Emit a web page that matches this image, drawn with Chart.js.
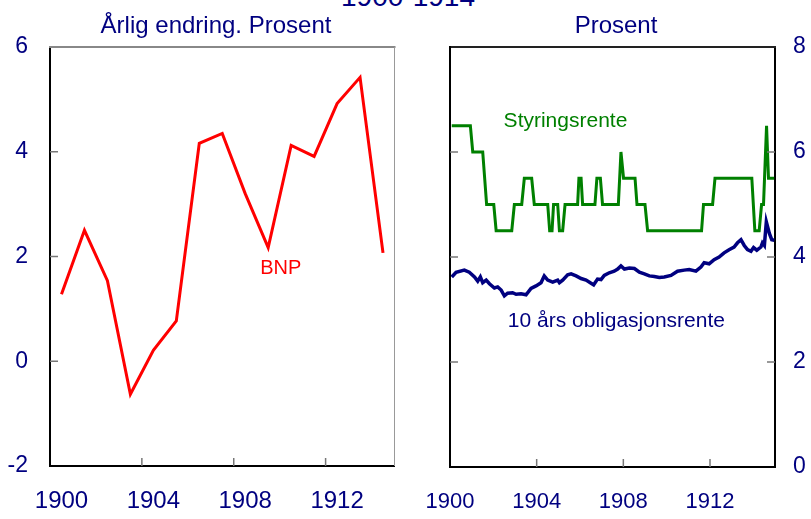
<!DOCTYPE html>
<html>
<head>
<meta charset="utf-8">
<script src="https://cdn.jsdelivr.net/npm/chart.js@4/dist/chart.umd.min.js"></script>
<style>
  html, body { margin:0; padding:0; background:#fff; }
  body { width:811px; height:519px; overflow:hidden; position:relative; font-family:"Liberation Sans", Arial, sans-serif; }
  #c1 { position:absolute; left:0; top:0; }
  #c2 { position:absolute; left:420px; top:0; }
  #mainTitle { position:absolute; left:0; width:816px; top:-17px; text-align:center; font-size:28px; line-height:28px; color:#000080; white-space:nowrap; }
</style>
</head>
<body>
<div id="mainTitle">1900-1914</div>
<canvas id="c1" width="420" height="519"></canvas>
<canvas id="c2" width="391" height="519"></canvas>
<script>
// ---------- Data ----------
const bnpYears  = [1900,1901,1902,1903,1904,1905,1906,1907,1908,1909,1910,1911,1912,1913,1914];
const bnpValues = [1.28,2.50,1.54,-0.63,0.21,0.77,4.16,4.35,3.20,2.17,4.12,3.91,4.92,5.42,2.07];

const rateTimes  = [1900.08,1900.94,1901.05,1901.51,1901.69,1902.02,1902.13,1902.85,1902.97,1903.31,1903.43,1903.77,
                    1903.89,1904.51,1904.60,1904.71,1904.78,1904.97,1905.05,1905.20,1905.31,1905.89,1905.95,1906.05,
                    1906.12,1906.69,1906.78,1906.94,1907.04,1907.77,1907.89,1908.01,1908.54,1908.63,1909.00,1909.12,
                    1911.61,1911.70,1912.12,1912.23,1913.93,1914.07,1914.27,1914.38,1914.47,1914.61,1914.70,1914.96];
const rateValues = [6.5,6.5,6.0,6.0,5.0,5.0,4.5,4.5,5.0,5.0,5.5,5.5,
                    5.0,5.0,4.5,4.5,5.0,5.0,4.5,4.5,5.0,5.0,5.5,5.5,
                    5.0,5.0,5.5,5.5,5.0,5.0,6.0,5.5,5.5,5.0,5.0,4.5,
                    4.5,5.0,5.0,5.5,5.5,4.5,4.5,5.0,5.0,6.5,5.5,5.5];

const bondTimes  = [1900.08,1900.28,1900.66,1900.89,1901.13,1901.28,1901.40,1901.51,1901.67,1901.82,1902.05,1902.20,
                    1902.36,1902.51,1902.66,1902.89,1903.05,1903.28,1903.51,1903.74,1903.97,1904.20,1904.35,1904.51,
                    1904.74,1904.97,1905.05,1905.20,1905.43,1905.59,1905.82,1906.05,1906.28,1906.51,1906.63,1906.81,
                    1906.97,1907.12,1907.35,1907.58,1907.74,1907.89,1908.05,1908.28,1908.51,1908.74,1908.97,1909.20,
                    1909.43,1909.66,1909.89,1910.20,1910.50,1910.81,1911.04,1911.35,1911.58,1911.73,1911.96,1912.19,
                    1912.42,1912.65,1912.88,1913.11,1913.27,1913.43,1913.58,1913.73,1913.89,1914.01,1914.16,1914.35,
                    1914.42,1914.51,1914.60,1914.74,1914.85,1914.97];
const bondValues = [3.62,3.71,3.75,3.71,3.62,3.54,3.62,3.51,3.56,3.49,3.41,3.43,
                    3.37,3.26,3.31,3.32,3.29,3.30,3.28,3.40,3.45,3.51,3.64,3.56,
                    3.52,3.56,3.51,3.56,3.66,3.68,3.64,3.59,3.56,3.50,3.47,3.58,
                    3.57,3.65,3.70,3.73,3.77,3.83,3.77,3.79,3.78,3.71,3.68,3.64,
                    3.63,3.61,3.62,3.65,3.73,3.75,3.76,3.73,3.81,3.89,3.87,3.95,
                    4.00,4.08,4.14,4.19,4.27,4.33,4.22,4.14,4.11,4.18,4.13,4.19,
                    4.27,4.22,4.67,4.45,4.33,4.32];

const leftXLabels  = [1900,1904,1908,1912];
const rightXLabels = [1900,1904,1908,1912];
const leftYTicks   = [-2,0,2,4,6];
const rightYTicks  = [0,2,4,6,8];

// ---------- Styles ----------
const NAVY = '#000080';
const FONT = '"Liberation Sans", Arial, sans-serif';
Chart.defaults.font.family = FONT;

function framePlugin(opts) {
  return {
    id: 'frame' + opts.name,
    afterDraw(chart) {
      const ctx = chart.ctx, a = chart.chartArea;
      const xs = chart.scales.x, ys = chart.scales.y;
      ctx.save();
      // subtitle
      ctx.fillStyle = NAVY;
      ctx.font = '24px ' + FONT;
      ctx.textAlign = 'center';
      ctx.textBaseline = 'alphabetic';
      ctx.fillText(opts.subtitle, opts.subX, 33);
      // top and extra borders
      ctx.strokeStyle = opts.topColor; ctx.lineWidth = 2;
      ctx.beginPath(); ctx.moveTo(a.left - 1, a.top); ctx.lineTo(a.right + 1, a.top); ctx.stroke();
      if (opts.rightBorder) {
        ctx.strokeStyle = opts.rightBorder.color; ctx.lineWidth = opts.rightBorder.width;
        ctx.beginPath(); ctx.moveTo(a.right, a.top); ctx.lineTo(a.right, a.bottom); ctx.stroke();
      }
      if (opts.leftBorder) {
        ctx.strokeStyle = '#000'; ctx.lineWidth = 2;
        ctx.beginPath(); ctx.moveTo(a.left, a.top - 1); ctx.lineTo(a.left, a.bottom + 1); ctx.stroke();
      }
      // inward tick marks
      ctx.strokeStyle = '#777'; ctx.lineWidth = 1.5;
      opts.yTicks.forEach(v => {
        const py = ys.getPixelForValue(v);
        if (py <= a.top + 2 || py >= a.bottom - 2) return;
        ctx.beginPath(); ctx.moveTo(a.left, py); ctx.lineTo(a.left + 8, py); ctx.stroke();
        if (opts.rightTicks) { ctx.beginPath(); ctx.moveTo(a.right, py); ctx.lineTo(a.right - 8, py); ctx.stroke(); }
      });
      opts.xTicks.forEach(v => {
        const px = xs.getPixelForValue(v);
        if (px <= a.left + 2 || px >= a.right - 2) return;
        ctx.beginPath(); ctx.moveTo(px, a.bottom); ctx.lineTo(px, a.bottom - 8); ctx.stroke();
      });
      // annotations
      opts.notes.forEach(n => {
        ctx.fillStyle = n.color;
        ctx.font = n.size + 'px ' + FONT;
        ctx.textAlign = 'center';
        ctx.textBaseline = 'middle';
        ctx.fillText(n.text, xs.getPixelForValue(n.x), ys.getPixelForValue(n.y));
      });
      ctx.restore();
    }
  };
}

function fitX(h) {
  return s => { s.height = h; s.paddingLeft = 0; s.paddingRight = 0; };
}

// ---------- Left chart: BNP ----------
new Chart(document.getElementById('c1'), {
  type: 'line',
  data: {
    datasets: [{
      data: bnpYears.map((yr, i) => ({ x: yr + 0.5, y: bnpValues[i] })),
      borderColor: '#ff0000', borderWidth: 3, pointRadius: 0, tension: 0, fill: false
    }]
  },
  options: {
    responsive: false, animation: false,
    layout: { padding: { left: 0, right: 25.5, top: 47, bottom: 0 } },
    plugins: { legend: { display: false }, tooltip: { enabled: false } },
    scales: {
      x: {
        type: 'linear', min: 1900, max: 1915,
        afterBuildTicks: s => { s.ticks = leftXLabels.map(v => ({ value: v + 0.5 })); },
        afterFit: fitX(53),
        ticks: { callback: v => String(Math.floor(v)), color: NAVY, font: { size: 24 }, padding: 21, maxRotation: 0, autoSkip: false },
        grid: { display: false, drawTicks: false },
        border: { display: true, color: '#000', width: 2 }
      },
      y: {
        min: -2, max: 6,
        afterBuildTicks: s => { s.ticks = leftYTicks.map(v => ({ value: v })); },
        afterFit: s => { s.width = 50; },
        ticks: { color: NAVY, font: { size: 23 }, padding: 22 },
        grid: { display: false, drawTicks: false },
        border: { display: true, color: '#000', width: 2 }
      }
    }
  },
  plugins: [framePlugin({
    name: 'L', subtitle: 'Årlig endring. Prosent', subX: 216,
    topColor: '#888', rightBorder: { color: '#999', width: 1 }, leftBorder: false, rightTicks: false,
    yTicks: leftYTicks, xTicks: [1904, 1908, 1912],
    notes: [{ text: 'BNP', x: 1910.05, y: 1.78, color: '#ff0000', size: 20 }]
  })]
});

// ---------- Right chart: rates ----------
new Chart(document.getElementById('c2'), {
  type: 'line',
  data: {
    datasets: [
      {
        data: bondTimes.map((t, i) => ({ x: t, y: bondValues[i] })),
        borderColor: NAVY, borderWidth: 3.5, pointRadius: 0, tension: 0, fill: false
      },
      {
        data: rateTimes.map((t, i) => ({ x: t, y: rateValues[i] })),
        borderColor: '#008000', borderWidth: 3, pointRadius: 0, tension: 0, fill: false
      }
    ]
  },
  options: {
    responsive: false, animation: false,
    layout: { padding: { left: 30, right: 0, top: 47, bottom: 0 } },
    plugins: { legend: { display: false }, tooltip: { enabled: false } },
    scales: {
      x: {
        type: 'linear', min: 1900, max: 1915,
        afterBuildTicks: s => { s.ticks = rightXLabels.map(v => ({ value: v })); },
        afterFit: fitX(52),
        ticks: { callback: v => String(v), color: NAVY, font: { size: 22 }, padding: 22, maxRotation: 0, autoSkip: false },
        grid: { display: false, drawTicks: false },
        border: { display: true, color: '#000', width: 2 }
      },
      y: {
        position: 'right', min: 0, max: 8,
        afterBuildTicks: s => { s.ticks = rightYTicks.map(v => ({ value: v })); },
        afterFit: s => { s.width = 36; },
        ticks: { color: NAVY, font: { size: 23 }, padding: 18 },
        grid: { display: false, drawTicks: false },
        border: { display: true, color: '#000', width: 2 }
      }
    }
  },
  plugins: [framePlugin({
    name: 'R', subtitle: 'Prosent', subX: 196,
    topColor: '#222', rightBorder: null, leftBorder: true, rightTicks: true,
    yTicks: rightYTicks, xTicks: [1904, 1908, 1912],
    notes: [
      { text: 'Styringsrente', x: 1905.33, y: 6.58, color: '#008000', size: 21 },
      { text: '10 års obligasjonsrente', x: 1907.68, y: 2.77, color: NAVY, size: 21 }
    ]
  })]
});
</script>
</body>
</html>
